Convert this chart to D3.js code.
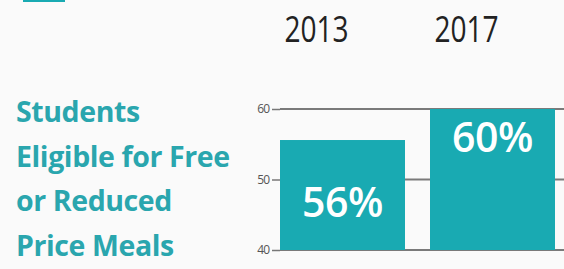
<!DOCTYPE html>
<html>
<head>
<meta charset="utf-8">
<script src="https://cdn.jsdelivr.net/npm/d3@7"></script>
<style>
  body { margin: 0; background: #fafafa; }
  svg { display: block; }
</style>
</head>
<body>
<svg width="564" height="269"></svg>
<script>
const years = ['2013', '2017'];
const values = [55.6, 60];
const yTicks = [40, 50, 60];
const titleLines = ['Students', 'Eligible for Free', 'or Reduced', 'Price Meals'];

const svg = d3.select('svg');
const teal = '#19aab2';

// cut-off icon at the very top
svg.append('rect')
  .attr('x', 23).attr('y', -4)
  .attr('width', 42).attr('height', 6)
  .attr('fill', teal);

// title on the left
svg.append('g')
  .selectAll('text')
  .data(titleLines)
  .enter()
  .append('text')
  .text(d => d)
  .attr('x', 16)
  .attr('y', (d, i) => 122 + i * 44.7)
  .attr('fill', '#2aa6ae')
  .attr('font-family', 'Open Sans, sans-serif')
  .attr('font-weight', 700)
  .attr('font-size', 28.5)
  .attr('letter-spacing', -0.4);

const xscale = d3.scaleBand()
  .domain(years)
  .range([280, 555])
  .paddingInner(25 / 150);

const yscale = d3.scaleLinear()
  .domain([40, 60])
  .range([250, 109]);

// gridlines + ticks
const axis = svg.append('g')
  .attr('transform', 'translate(280,0)')
  .call(d3.axisLeft(yscale).tickValues(yTicks).tickSize(8).tickPadding(3));
axis.select('.domain').remove();
axis.selectAll('.tick line').attr('stroke', '#777').attr('stroke-width', 1.5);
axis.selectAll('.tick text')
  .attr('fill', '#555')
  .attr('font-family', 'Open Sans, sans-serif')
  .attr('font-size', 12)
  .attr('letter-spacing', -1);

svg.append('g')
  .selectAll('line')
  .data(yTicks)
  .enter()
  .append('line')
  .attr('x1', 280).attr('x2', 564)
  .attr('y1', d => yscale(d)).attr('y2', d => yscale(d))
  .attr('stroke', '#7a7a7a')
  .attr('stroke-width', 2.2);

// bars
svg.append('g')
  .selectAll('rect')
  .data(values)
  .enter()
  .append('rect')
  .attr('x', (d, i) => xscale(years[i]))
  .attr('y', d => yscale(d))
  .attr('width', xscale.bandwidth())
  .attr('height', d => yscale(40) - yscale(d))
  .attr('fill', teal);

// value labels
svg.append('g')
  .selectAll('text')
  .data(values)
  .enter()
  .append('text')
  .text(d => Math.round(d) + '%')
  .attr('x', (d, i) => xscale(years[i]) + xscale.bandwidth() / 2)
  .attr('y', (d, i) => yscale(d) + (i === 0 ? 77 : 43))
  .attr('text-anchor', 'middle')
  .attr('fill', '#fff')
  .attr('font-family', 'Open Sans, sans-serif')
  .attr('font-weight', 600)
  .attr('font-size', 41)
  .attr('letter-spacing', -0.5);

// year labels above (condensed face, so squeeze horizontally)
svg.append('g')
  .selectAll('text')
  .data(years)
  .enter()
  .append('text')
  .text(d => d)
  .attr('transform', d => `translate(${xscale(d) + xscale.bandwidth() / 2 - 26},42) scale(0.78,1)`)
  .attr('text-anchor', 'middle')
  .attr('fill', '#222')
  .attr('font-family', 'Open Sans, sans-serif')
  .attr('font-size', 36);
</script>
</body>
</html>
